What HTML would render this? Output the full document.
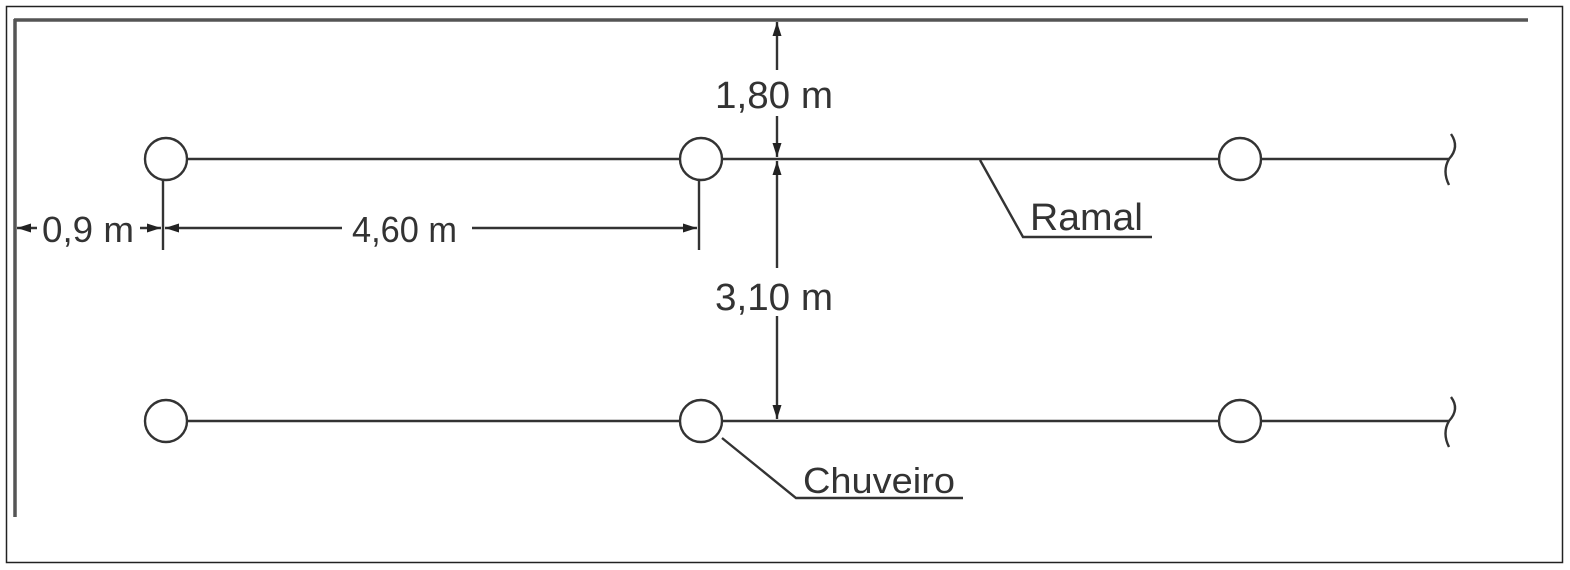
<!DOCTYPE html>
<html><head><meta charset="utf-8"><style>
html,body{margin:0;padding:0;background:#fff;}
svg{display:block;}
text{font-family:"Liberation Sans",Arial,sans-serif;fill:#333;}
</style></head><body>
<svg width="1570" height="570" viewBox="0 0 1570 570" xmlns="http://www.w3.org/2000/svg">
<defs>
<marker id="ah" viewBox="0 0 14 10" refX="14" refY="5" markerWidth="14" markerHeight="10" markerUnits="userSpaceOnUse" orient="auto-start-reverse">
<path d="M0,0.5 L14,5 L0,9.5 Z" fill="#222"/>
</marker>
</defs>
<rect x="6.5" y="6.5" width="1556" height="556" fill="#fff" stroke="#222" stroke-width="1.5"/>
<g stroke="#555" stroke-width="3.5" fill="none">
<line x1="14" y1="20" x2="1528" y2="20"/>
<line x1="15" y1="19" x2="15" y2="517"/>
</g>
<g stroke="#333" stroke-width="2.4" fill="none">
<line x1="187" y1="159" x2="680" y2="159"/>
<line x1="722" y1="159" x2="1219" y2="159"/>
<line x1="1261" y1="159" x2="1449" y2="159"/>
<path d="M1451,134 Q1460,147 1449,159 Q1442,171 1449,185"/>
<line x1="187" y1="421" x2="680" y2="421"/>
<line x1="722" y1="421" x2="1219" y2="421"/>
<line x1="1261" y1="421" x2="1449" y2="421"/>
<path d="M1451,397 Q1460,409 1449,421 Q1442,433 1449,447"/>
<circle cx="166" cy="159" r="21" fill="#fff"/>
<circle cx="701" cy="159" r="21" fill="#fff"/>
<circle cx="1240" cy="159" r="21" fill="#fff"/>
<circle cx="166" cy="421" r="21" fill="#fff"/>
<circle cx="701" cy="421" r="21" fill="#fff"/>
<circle cx="1240" cy="421" r="21" fill="#fff"/>
<line x1="163" y1="180" x2="163" y2="250"/>
<line x1="699" y1="180" x2="699" y2="250"/>
<line x1="17" y1="228" x2="37" y2="228" marker-start="url(#ah)"/>
<line x1="140" y1="228" x2="161" y2="228" marker-end="url(#ah)"/>
<line x1="165" y1="228" x2="342" y2="228" marker-start="url(#ah)"/>
<line x1="472" y1="228" x2="697" y2="228" marker-end="url(#ah)"/>
<line x1="777" y1="22" x2="777" y2="70" marker-start="url(#ah)"/>
<line x1="777" y1="116" x2="777" y2="157" marker-end="url(#ah)"/>
<line x1="777" y1="161" x2="777" y2="268" marker-start="url(#ah)"/>
<line x1="777" y1="316" x2="777" y2="419" marker-end="url(#ah)"/>
<polyline points="980,160 1023,237 1152,237"/>
<polyline points="722,438 796,498 963,498"/>
</g>
<text x="42" y="242" font-size="36" textLength="92" lengthAdjust="spacingAndGlyphs">0,9 m</text>
<text x="352" y="242" font-size="36" textLength="105" lengthAdjust="spacingAndGlyphs">4,60 m</text>
<text x="715" y="108" font-size="38" textLength="118" lengthAdjust="spacingAndGlyphs">1,80 m</text>
<text x="715" y="310" font-size="38" textLength="118" lengthAdjust="spacingAndGlyphs">3,10 m</text>
<text x="1030" y="230" font-size="38" textLength="113" lengthAdjust="spacingAndGlyphs">Ramal</text>
<text x="803" y="493" font-size="36" textLength="152" lengthAdjust="spacingAndGlyphs">Chuveiro</text>
</svg>
</body></html>
